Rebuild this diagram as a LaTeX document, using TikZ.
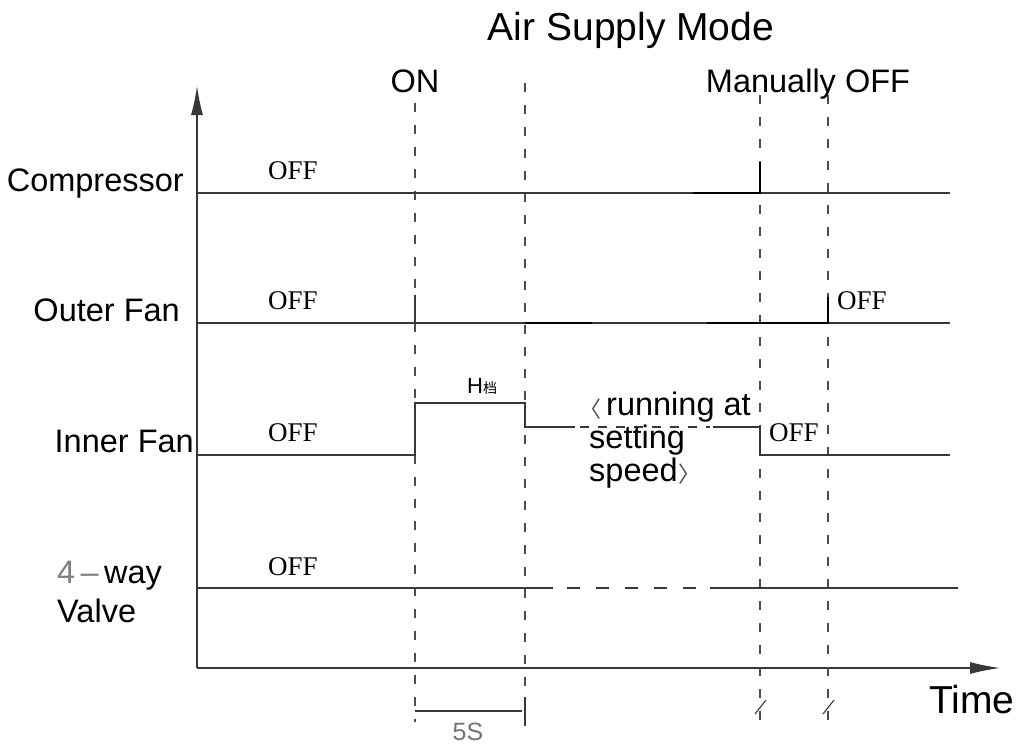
\documentclass[tikz,border=0pt]{standalone}
\usepackage{fontspec}
\setmainfont{Liberation Serif}
\newfontfamily\sansf{Liberation Sans}
\newfontfamily\cjk{Noto Sans CJK SC}
\usetikzlibrary{arrows.meta}
\begin{document}
\begin{tikzpicture}[x=1pt,y=-1pt,
  sig/.style={line width=1.1pt, black!78},
  sigbold/.style={line width=2pt, black},
  vdash/.style={line width=1.1pt, black!70, dash pattern=on 9pt off 13pt},
  lbl/.style={font=\sansf\fontsize{32.5}{36}\selectfont, inner sep=0pt},
  bigl/.style={font=\sansf\fontsize{39}{44}\selectfont, inner sep=0pt},
  offl/.style={font=\fontsize{27}{30}\selectfont, inner sep=0pt},
  thinl/.style={font=\sansf\fontsize{25}{28}\selectfont, inner sep=0pt, text=black!55}]
\useasboundingbox (0,0) rectangle (1021,747);
% axes
\coordinate (O) at (197,668);
\coordinate (Ytip) at (197,86);
\coordinate (Xtip) at (1000,668);
\draw[sig, -{Latex[length=29pt,width=12pt]}] (O) -- (Ytip);
\draw[sig, -{Latex[length=30pt,width=12pt]}] (O) -- (Xtip);
% dashed time markers
\draw[vdash] (415,103) -- (415,722);
\draw[vdash] (525,83) -- (525,722);
\draw[vdash] (760,95) -- (760,722);
\draw[vdash] (828,95) -- (828,722);
% compressor
\draw[sig] (197,193) -- (950,193);
\draw[sigbold] (693,193) -- (760,193) -- (760,162);
% outer fan
\draw[sig] (197,323) -- (950,323);
\draw[sig] (415,323) -- (415,295);
\draw[sigbold] (525,323) -- (592,323);
\draw[sigbold] (707,323) -- (828,323) -- (828,297);
% inner fan
\draw[sig] (197,455) -- (415,455) -- (415,403) -- (525,403) -- (525,427) -- (575,427);
\draw[sig, dash pattern=on 9pt off 9pt] (580,427) -- (710,427);
\draw[sig] (713,427) -- (760,427) -- (760,455) -- (950,455);
% 4-way valve
\draw[sig] (197,588) -- (553,588);
\draw[sig, dash pattern=on 13pt off 16pt] (567,588) -- (697,588);
\draw[sig] (710,588) -- (958,588);
% bottom marks
\draw[sig] (415,711) -- (522,711);
\draw[sig] (525,697) -- (525,726);
\draw[sig] (755,714) -- (766,700);
\draw[sig] (823,714) -- (834,700);
% labels
\node[bigl, anchor=base] (title) at (631,40) {Air Supply Mode};
\node[lbl, anchor=base] (on) at (415,92) {ON};
\node[lbl, anchor=base] (moff) at (808,92) {Manually OFF};
\node[lbl, anchor=base east] (comp) at (184,191) {Compressor};
\node[lbl, anchor=base east] (ofan) at (180,321) {Outer Fan};
\node[lbl, anchor=base east] (ifan) at (194,452) {Inner Fan};
\node[lbl, anchor=base west] (way) at (57,583) {{\color{black!50}4\,–\,}way};
\node[lbl, anchor=base west] (valve) at (57,622) {Valve};
\node[bigl, anchor=base west] (time) at (929,713) {Time};
\node[offl, anchor=base west] (off1) at (268,179) {OFF};
\node[offl, anchor=base west] (off2) at (268,309) {OFF};
\node[offl, anchor=base west] (off3) at (268,441) {OFF};
\node[offl, anchor=base west] (off4) at (268,575) {OFF};
\node[offl, anchor=base west] (off5) at (837,309) {OFF};
\node[offl, anchor=base west] (off6) at (769,441) {OFF};
\node[anchor=base west, inner sep=0pt] (hdang) at (467,393) {{\sansf\fontsize{22}{24}\selectfont H}{\cjk\fontsize{14}{16}\selectfont 档}};
\node[font=\cjk\fontsize{22}{24}\selectfont, text=black!70, inner sep=0pt] (lbr) at (590,409) {〈};
\node[lbl, anchor=base west] (run1) at (606,415) {running at};
\node[lbl, anchor=base west] (run2) at (589,448) {setting};
\node[lbl, anchor=base west] (run3) at (589,481) {speed};
\node[font=\cjk\fontsize{22}{24}\selectfont, text=black!70, inner sep=0pt] (rbr) at (689,474) {〉};
\node[thinl, anchor=base] (fives) at (468,740) {5S};
\end{tikzpicture}
\end{document}
